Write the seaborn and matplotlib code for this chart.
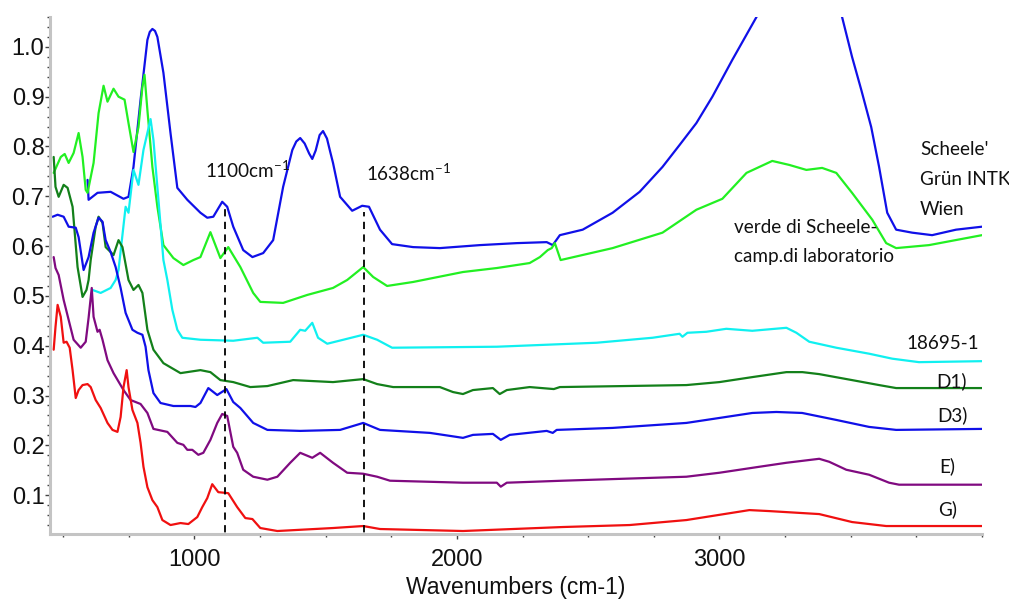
import numpy as np
import pandas as pd
import matplotlib
matplotlib.use("Agg")
import matplotlib.pyplot as plt
import seaborn as sns
from matplotlib.ticker import MultipleLocator, FormatStrFormatter

# ---------------- data ----------------
wn_scheele = [593, 597, 631, 681, 730, 749, 768, 795, 821, 830, 840, 850, 859, 882, 909, 935, 973, 1023, 1049, 1072,
              1106, 1125, 1148, 1186, 1221, 1262, 1300, 1338, 1373, 1388, 1403, 1420, 1437, 1449, 1462, 1477, 1490,
              1505, 1517, 1528, 1555, 1601, 1639, 1665, 1707, 1753, 1833, 1935, 2087, 2228, 2342, 2365, 2392, 2479,
              2593, 2696, 2783, 2848, 2912, 2973, 3049, 3141, 3250, 3320, 3400, 3467, 3505, 3540, 3578, 3608, 3639,
              3673, 3734, 3810, 3901, 4000]
ab_scheele = [0.733, 0.693, 0.707, 0.709, 0.695, 0.699, 0.759, 0.894, 1.014, 1.030, 1.036, 1.032, 1.020, 0.948,
              0.827, 0.717, 0.693, 0.667, 0.657, 0.659, 0.689, 0.679, 0.639, 0.592, 0.578, 0.586, 0.612, 0.719, 0.793,
              0.810, 0.817, 0.806, 0.786, 0.775, 0.792, 0.823, 0.831, 0.816, 0.790, 0.767, 0.699, 0.671, 0.681, 0.679,
              0.633, 0.604, 0.598, 0.596, 0.602, 0.606, 0.608, 0.602, 0.622, 0.633, 0.667, 0.709, 0.759, 0.803, 0.847,
              0.900, 0.974, 1.060, 1.160, 1.200, 1.160, 1.060, 0.980, 0.914, 0.839, 0.759, 0.667, 0.633, 0.627, 0.622,
              0.633, 0.639]

wn_verde = [464, 491, 506, 521, 540, 559, 574, 586, 593, 616, 635, 654, 669, 692, 711, 734, 749, 768, 787, 802, 810, 821,
            840, 859, 882, 920, 958, 996, 1023, 1061, 1099, 1129, 1175, 1224, 1251, 1338, 1430, 1528, 1582, 1643, 1681,
            1734, 1833, 2023, 2152, 2277, 2316, 2346, 2361, 2373, 2395, 2593, 2783, 2912, 3011, 3103, 3201, 3266, 3331,
            3391, 3445, 3505, 3582, 3635, 3673, 3798, 4000]
ab_verde = [0.747, 0.779, 0.785, 0.767, 0.787, 0.827, 0.779, 0.713, 0.707, 0.767, 0.867, 0.922, 0.890, 0.916, 0.900,
            0.894, 0.847, 0.789, 0.839, 0.920, 0.944, 0.873, 0.759, 0.679, 0.602, 0.576, 0.562, 0.572, 0.578, 0.628,
            0.576, 0.598, 0.558, 0.506, 0.488, 0.486, 0.502, 0.516, 0.532, 0.558, 0.538, 0.520, 0.528, 0.548, 0.556,
            0.566, 0.578, 0.592, 0.596, 0.606, 0.572, 0.596, 0.627, 0.673, 0.695, 0.747, 0.771, 0.763, 0.753, 0.757,
            0.747, 0.707, 0.653, 0.606, 0.596, 0.602, 0.622]

wn_18695 = [612, 643, 681, 700, 711, 738, 749, 768, 787, 806, 833, 844, 863, 882, 897, 916, 935, 954, 1023, 1148, 1240,
            1262, 1365, 1403, 1422, 1449, 1471, 1506, 1567, 1643, 1696, 1753, 2152, 2532, 2745, 2848, 2859, 2878, 2950,
            3026, 3125, 3255, 3293, 3342, 3445, 3570, 3658, 3760, 4000]
ab_18695 = [0.512, 0.506, 0.516, 0.532, 0.552, 0.679, 0.667, 0.753, 0.723, 0.793, 0.855, 0.813, 0.693, 0.572, 0.532,
            0.472, 0.432, 0.416, 0.412, 0.410, 0.416, 0.406, 0.408, 0.432, 0.430, 0.446, 0.416, 0.404, 0.412, 0.422,
            0.412, 0.396, 0.398, 0.406, 0.416, 0.424, 0.418, 0.426, 0.428, 0.434, 0.430, 0.436, 0.426, 0.408, 0.396,
            0.384, 0.374, 0.367, 0.369]

wn_d1 = [464, 471, 483, 502, 517, 536, 555, 574, 589, 597, 605, 624, 635, 650, 662, 681, 692, 711, 726, 749, 768, 787,
         802, 821, 844, 882, 947, 1023, 1061, 1099, 1148, 1213, 1278, 1376, 1528, 1643, 1696, 1757, 1935, 1985, 2023,
         2061, 2137, 2163, 2190, 2277, 2369, 2392, 2874, 3000, 3125, 3255, 3316, 3380, 3505, 3608, 3673, 4000]
ab_d1 = [0.779, 0.719, 0.699, 0.723, 0.717, 0.679, 0.558, 0.498, 0.512, 0.532, 0.572, 0.639, 0.659, 0.647, 0.598,
         0.588, 0.582, 0.612, 0.598, 0.532, 0.512, 0.522, 0.506, 0.432, 0.392, 0.365, 0.345, 0.351, 0.347, 0.331,
         0.327, 0.317, 0.319, 0.331, 0.327, 0.333, 0.323, 0.317, 0.317, 0.307, 0.303, 0.311, 0.315, 0.303, 0.311,
         0.317, 0.313, 0.317, 0.321, 0.327, 0.337, 0.347, 0.347, 0.343, 0.331, 0.321, 0.315, 0.315]

wn_d3 = [460, 479, 502, 521, 548, 559, 578, 597, 616, 635, 650, 662, 681, 700, 719, 738, 764, 783, 802, 814, 825, 844,
         871, 920, 985, 1004, 1023, 1053, 1087, 1122, 1148, 1175, 1224, 1278, 1403, 1555, 1643, 1707, 1897, 1973, 2023,
         2061, 2137, 2167, 2201, 2342, 2365, 2380, 2593, 2874, 3000, 3125, 3217, 3315, 3445, 3570, 3673, 4000]
ab_d3 = [0.659, 0.663, 0.659, 0.639, 0.637, 0.618, 0.552, 0.578, 0.627, 0.657, 0.649, 0.612, 0.588, 0.558, 0.516,
         0.466, 0.432, 0.426, 0.422, 0.398, 0.351, 0.305, 0.285, 0.279, 0.279, 0.277, 0.285, 0.315, 0.301, 0.313,
         0.287, 0.275, 0.245, 0.231, 0.229, 0.231, 0.245, 0.231, 0.225, 0.219, 0.215, 0.221, 0.223, 0.211, 0.221,
         0.229, 0.225, 0.231, 0.235, 0.245, 0.255, 0.265, 0.267, 0.265, 0.251, 0.237, 0.231, 0.233]

wn_e = [464, 471, 483, 502, 521, 540, 567, 586, 597, 609, 616, 631, 639, 650, 669, 692, 730, 757, 795, 821, 844, 897,
        935, 958, 973, 992, 1015, 1034, 1061, 1087, 1106, 1125, 1148, 1163, 1186, 1224, 1278, 1316, 1365, 1403, 1449,
        1479, 1528, 1582, 1643, 1696, 1745, 2023, 2152, 2167, 2190, 2403, 2874, 3000, 3152, 3255, 3380, 3418, 3483,
        3570, 3646, 3684, 4000]
ab_e = [0.578, 0.556, 0.542, 0.492, 0.452, 0.412, 0.396, 0.408, 0.456, 0.516, 0.458, 0.428, 0.432, 0.412, 0.371,
        0.345, 0.311, 0.291, 0.283, 0.265, 0.233, 0.227, 0.205, 0.201, 0.191, 0.191, 0.181, 0.185, 0.211, 0.245,
        0.263, 0.259, 0.197, 0.185, 0.151, 0.137, 0.131, 0.137, 0.165, 0.185, 0.175, 0.185, 0.165, 0.145, 0.143,
        0.137, 0.129, 0.125, 0.125, 0.117, 0.125, 0.129, 0.137, 0.145, 0.157, 0.165, 0.173, 0.167, 0.151, 0.141,
        0.125, 0.121, 0.121]

wn_g = [464, 471, 479, 491, 502, 513, 525, 536, 548, 559, 574, 593, 605, 624, 643, 669, 688, 707, 719, 730, 742, 749,
        764, 783, 795, 806, 821, 840, 859, 878, 909, 947, 977, 1011, 1030, 1049, 1068, 1091, 1129, 1163, 1194, 1221,
        1251, 1316, 1528, 1643, 1707, 2023, 2403, 2658, 2874, 3114, 3190, 3380, 3505, 3635, 4000]
ab_g = [0.392, 0.438, 0.482, 0.458, 0.406, 0.408, 0.396, 0.351, 0.295, 0.311, 0.321, 0.323, 0.317, 0.291, 0.275,
        0.245, 0.231, 0.227, 0.257, 0.317, 0.351, 0.317, 0.271, 0.245, 0.205, 0.157, 0.116, 0.090, 0.076, 0.050,
        0.040, 0.044, 0.042, 0.056, 0.076, 0.094, 0.122, 0.106, 0.104, 0.076, 0.054, 0.052, 0.034, 0.028, 0.034,
        0.038, 0.032, 0.028, 0.036, 0.040, 0.050, 0.070, 0.068, 0.062, 0.046, 0.038, 0.038]

series_names = ["Scheele' Grün INTK Wien", "verde di Scheele", "18695-1", "D1)", "D3)", "E)", "G)"]
series_colors = ["#1010e8", "#22f022", "#10f0f0", "#13801a", "#1010e8", "#800a80", "#f01010"]

peak_marks = [1115, 1645]          # dashed marker positions (cm-1)
peak_tops = [0.683, 0.669]         # where the dashed lines start
peak_labels = ["1100cm$^{-1}$", "1638cm$^{-1}$"]
peak_label_pos = [(1042, 0.737), (1654, 0.731)]

curve_labels = ["Scheele'", "Grün INTK", "Wien", "verde di Scheele-", "camp.di laboratorio",
                "18695-1", "D1)", "D3)", "E)", "G)"]
curve_label_pos = [(3764, 0.783), (3764, 0.723), (3764, 0.663), (3057, 0.627), (3057, 0.568),
                   (3711, 0.394), (3825, 0.317), (3829, 0.249), (3836, 0.147), (3832, 0.060)]

x_tick_values = [1000, 2000, 3000]
y_tick_values = [0.1, 0.2, 0.3, 0.4, 0.5, 0.6, 0.7, 0.8, 0.9, 1.0]

# ---------------- build long table ----------------
frames = []
for name, wn, ab in zip(series_names,
                        [wn_scheele, wn_verde, wn_18695, wn_d1, wn_d3, wn_e, wn_g],
                        [ab_scheele, ab_verde, ab_18695, ab_d1, ab_d3, ab_e, ab_g]):
    frames.append(pd.DataFrame({"wn": wn, "ab": ab, "series": name}))
df = pd.concat(frames, ignore_index=True)

sns.set_style("white")
plt.rcParams["font.family"] = ["Liberation Sans", "DejaVu Sans"]
plt.rcParams["mathtext.fontset"] = "custom"
plt.rcParams["mathtext.rm"] = "Lato"
plt.rcParams["mathtext.it"] = "Lato"
plt.rcParams["mathtext.default"] = "rm"

fig = plt.figure(figsize=(10.09, 6.0), dpi=100)
ax = fig.add_axes([50 / 1009, 1 - 534 / 600, (982 - 50) / 1009, (534 - 17) / 600])

palette = dict(zip(series_names, series_colors))
sns.lineplot(data=df, x="wn", y="ab", hue="series", palette=palette, estimator=None,
             sort=True, lw=1.6, legend=False, ax=ax)

for xm, yt in zip(peak_marks, peak_tops):
    ax.plot([xm, xm], [0.0, yt], color="black", lw=1.3, ls=(0, (4, 3)), zorder=5)

lab_font = dict(family=["Lato", "DejaVu Sans"], fontsize=13.6, color="#111111")
for txt, (x, y) in zip(peak_labels, peak_label_pos):
    ax.text(x, y, txt, ha="left", va="baseline", **lab_font)

for txt, (x, y) in zip(curve_labels, curve_label_pos):
    ax.text(x, y, txt, ha="left", va="baseline", **lab_font)

ax.set_xlim(450, 4000)
ax.set_ylim(0.022, 1.06)
ax.set_xticks(x_tick_values)
ax.xaxis.set_minor_locator(MultipleLocator(250))
ax.set_yticks(y_tick_values)
ax.yaxis.set_minor_locator(MultipleLocator(0.02))
ax.yaxis.set_major_formatter(FormatStrFormatter("%.1f"))

for s in ["top", "right"]:
    ax.spines[s].set_visible(False)
for s in ["left", "bottom"]:
    ax.spines[s].set_color("#c4c4c4")
    ax.spines[s].set_linewidth(2.2)

ax.tick_params(axis="both", which="major", direction="out", length=3.5, width=1, color="#444444",
               labelsize=17, labelcolor="#111111")
ax.tick_params(axis="both", which="minor", direction="out", length=2.5, width=1, color="#444444")
ax.tick_params(axis="y", which="major", pad=0.5)
ax.tick_params(axis="x", which="major", pad=7)
ax.tick_params(axis="both", which="both", bottom=True, left=True)

ax.set_xlabel("Wavenumbers (cm-1)", fontsize=16.5, color="#111111", labelpad=4)
ax.set_ylabel("")

fig.savefig("out.png", dpi=100)
